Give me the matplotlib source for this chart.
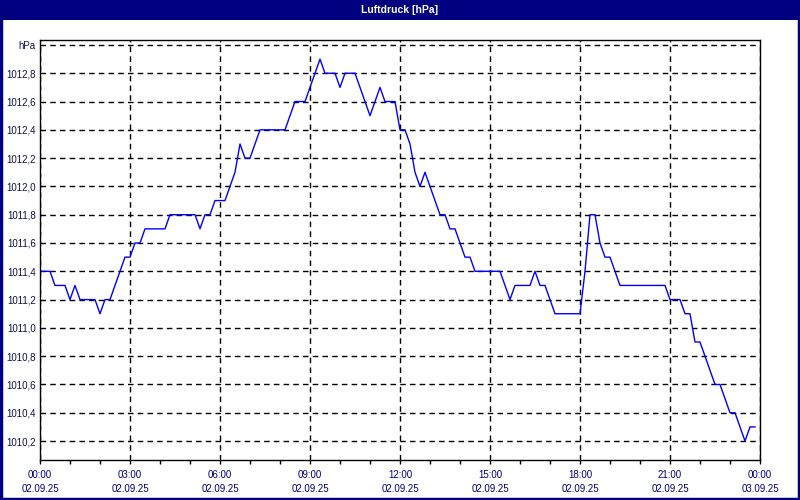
import pandas as pd
import matplotlib
matplotlib.use("Agg")
import matplotlib.pyplot as plt
import matplotlib.dates as mdates
from matplotlib.patches import Rectangle
from matplotlib.ticker import FuncFormatter

# Air pressure readings, one every 10 minutes from 02.09.25 00:00
pressure = [
    1011.4, 1011.4, 1011.4, 1011.3, 1011.3, 1011.3, 1011.2, 1011.3, 1011.2, 1011.2,
    1011.2, 1011.2, 1011.1, 1011.2, 1011.2, 1011.3, 1011.4, 1011.5, 1011.5, 1011.6,
    1011.6, 1011.7, 1011.7, 1011.7, 1011.7, 1011.7, 1011.8, 1011.8, 1011.8, 1011.8,
    1011.8, 1011.8, 1011.7, 1011.8, 1011.8, 1011.9, 1011.9, 1011.9, 1012.0, 1012.1,
    1012.3, 1012.2, 1012.2, 1012.3, 1012.4, 1012.4, 1012.4, 1012.4, 1012.4, 1012.4,
    1012.5, 1012.6, 1012.6, 1012.6, 1012.7, 1012.8, 1012.9, 1012.8, 1012.8, 1012.8,
    1012.7, 1012.8, 1012.8, 1012.8, 1012.7, 1012.6, 1012.5, 1012.6, 1012.7, 1012.6,
    1012.6, 1012.6, 1012.4, 1012.4, 1012.3, 1012.1, 1012.0, 1012.1, 1012.0, 1011.9,
    1011.8, 1011.8, 1011.7, 1011.7, 1011.6, 1011.5, 1011.5, 1011.4, 1011.4, 1011.4,
    1011.4, 1011.4, 1011.4, 1011.3, 1011.2, 1011.3, 1011.3, 1011.3, 1011.3, 1011.4,
    1011.3, 1011.3, 1011.2, 1011.1, 1011.1, 1011.1, 1011.1, 1011.1, 1011.1, 1011.4,
    1011.8, 1011.8, 1011.6, 1011.5, 1011.5, 1011.4, 1011.3, 1011.3, 1011.3, 1011.3,
    1011.3, 1011.3, 1011.3, 1011.3, 1011.3, 1011.3, 1011.2, 1011.2, 1011.2, 1011.1,
    1011.1, 1010.9, 1010.9, 1010.8, 1010.7, 1010.6, 1010.6, 1010.5, 1010.4, 1010.4,
    1010.3, 1010.2, 1010.3, 1010.3,
]
times = pd.date_range("2025-09-02 00:00", periods=len(pressure), freq="10min")

y_ticks = [1010.2, 1010.4, 1010.6, 1010.8, 1011.0, 1011.2, 1011.4, 1011.6,
           1011.8, 1012.0, 1012.2, 1012.4, 1012.6, 1012.8, 1013.0]
x_start = pd.Timestamp("2025-09-02 00:00")
x_end = pd.Timestamp("2025-09-03 00:00")

title = "Luftdruck [hPa]"
navy = "#000080"

plt.rcParams["font.family"] = ["Liberation Sans", "DejaVu Sans"]

fig = plt.figure(figsize=(8, 5), dpi=100)
fig.patch.set_facecolor("white")

# window frame and title bar
fig.patches.append(Rectangle((0, 0.96), 1, 0.04, transform=fig.transFigure,
                             facecolor=navy, edgecolor="none", zorder=0))
fig.patches.append(Rectangle((0.0012, 0.003), 0.9976, 0.994, transform=fig.transFigure,
                             facecolor="none", edgecolor=navy, linewidth=2.5, zorder=0))
fig.text(0.5, 0.98, title, color="white", fontsize=7.5, fontweight="bold",
         ha="center", va="center")

ax = fig.add_axes([0.05, 0.08, 0.90, 0.84])
ax.plot(times, pressure, color="#0000ff", linewidth=1.0)

ax.set_xlim(x_start, x_end)
ax.set_ylim(1010.066, 1013.035)

# y axis: comma decimals, unit label on the top gridline
ax.set_yticks(y_ticks)
ax.yaxis.set_major_formatter(FuncFormatter(
    lambda v, pos: "hPa" if abs(v - 1013.0) < 1e-6 else f"{v:.1f}".replace(".", ",")))
ax.tick_params(axis="y", length=0, pad=3, labelsize=7, labelcolor="#101040")

# x axis: time and date every 3 hours, minor ticks hourly
ax.xaxis.set_major_locator(mdates.HourLocator(byhour=range(0, 24, 3)))
ax.xaxis.set_minor_locator(mdates.HourLocator())
ax.xaxis.set_major_formatter(mdates.DateFormatter("%H:%M\n%d.%m.%y"))
ax.tick_params(axis="x", which="both", direction="out", length=3, width=1, pad=4,
               labelsize=7, labelcolor=navy)
for lbl in ax.get_xticklabels():
    lbl.set_linespacing(1.55)

ax.grid(True, which="major", color="black", linestyle=(0, (4, 3)), linewidth=1)
for s in ax.spines.values():
    s.set_color("black")
    s.set_linewidth(1)

fig.savefig("out.png", dpi=100, facecolor=fig.get_facecolor())
